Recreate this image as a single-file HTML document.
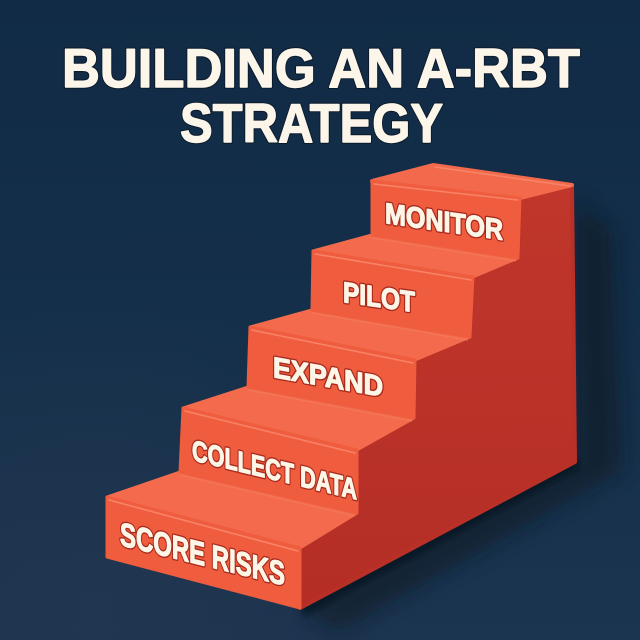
<!DOCTYPE html>
<html><head><meta charset="utf-8"><style>
html,body{margin:0;padding:0;background:#15304a;}
svg{display:block;}
</style></head><body>
<svg width="640" height="640" viewBox="0 0 640 640" xmlns="http://www.w3.org/2000/svg">
<defs>
<linearGradient id="bg" x1="0" y1="0" x2="0" y2="1">
<stop offset="0" stop-color="#112b46"/>
<stop offset="0.6" stop-color="#15304b"/>
<stop offset="1" stop-color="#1b3450"/>
</linearGradient>
<radialGradient id="glow" cx="0.15" cy="0.95" r="0.5">
<stop offset="0" stop-color="#243750" stop-opacity="0.7"/>
<stop offset="1" stop-color="#243750" stop-opacity="0"/>
</radialGradient>
<linearGradient id="side" x1="0" y1="0" x2="0" y2="1">
<stop offset="0" stop-color="#c0362b"/>
<stop offset="1" stop-color="#b42e26"/>
</linearGradient>
<filter id="blur" x="-30%" y="-30%" width="160%" height="160%"><feGaussianBlur stdDeviation="10"/></filter>
<filter id="blur2" x="-30%" y="-30%" width="160%" height="160%"><feGaussianBlur stdDeviation="3"/></filter>
</defs>
<rect width="640" height="640" fill="url(#bg)"/>
<rect width="640" height="640" fill="url(#glow)"/>

<!-- shadow -->
<polygon points="575,200 612,230 622,470 340,630 300,612 575,462" fill="#07141f" opacity="0.55" filter="url(#blur)"/>
<polygon points="300,606 575,460 580,468 305,616" fill="#050d16" opacity="0.6" filter="url(#blur2)"/>

<g stroke-linejoin="round">
<polygon points="520,198 572,185 575,462 300,608 300,548 357,513 357,450 414,418 415,360 470,337 473,277 518,258" fill="url(#side)" stroke="#b93027" stroke-width="4"/>
<polygon points="372,181 433,165 572,185 520,198" fill="#f26a4b" stroke="#f26a4b" stroke-width="4"/>
<polygon points="313,251 372,235 518,258 473,277" fill="#f36b4c" stroke="#f36b4c" stroke-width="3"/>
<polygon points="250,327 312,310 470,337 415,360" fill="#f36b4c" stroke="#f36b4c" stroke-width="3"/>
<polygon points="183,408 248,387 414,418 357,450" fill="#f36b4c" stroke="#f36b4c" stroke-width="3"/>
<polygon points="107,497 180,472 357,513 300,548" fill="#f36b4c" stroke="#f36b4c" stroke-width="3"/>
<polygon points="372,181 520,198 518,258 372,235" fill="#ef5d3e" stroke="#ef5d3e" stroke-width="3"/>
<polygon points="313,251 473,277 470,337 312,310" fill="#ef5d3e" stroke="#ef5d3e" stroke-width="3"/>
<polygon points="250,327 415,360 414,418 248,387" fill="#ef5d3e" stroke="#ef5d3e" stroke-width="3"/>
<polygon points="183,408 357,450 357,513 180,472" fill="#ef5d3e" stroke="#ef5d3e" stroke-width="3"/>
<polygon points="107,497 300,548 300,608 107,557" fill="#ef5d3e" stroke="#ef5d3e" stroke-width="3"/>
</g>

<g stroke="#f8876b" stroke-width="1.6" fill="none" stroke-linecap="round" opacity="0.9">
<line x1="374" y1="184" x2="518" y2="200"/>
<line x1="315" y1="254" x2="471" y2="280"/>
<line x1="252" y1="330" x2="413" y2="363"/>
<line x1="185" y1="411" x2="355" y2="453"/>
<line x1="109" y1="500" x2="298" y2="551"/>
<line x1="435" y1="167" x2="570" y2="186"/>
</g>
<g stroke="#f47b5e" stroke-width="1.2" fill="none" opacity="0.7">
<line x1="372" y1="238" x2="516" y2="261"/>
<line x1="312" y1="313" x2="468" y2="340"/>
<line x1="248" y1="390" x2="412" y2="421"/>
<line x1="180" y1="475" x2="355" y2="516"/>
</g>

<!-- title -->
<g font-family="'Liberation Sans', sans-serif" font-weight="bold" font-size="55">
<g fill="none" stroke="#0b1a2a" stroke-width="3.5" stroke-linejoin="round">
<text x="62" y="87" textLength="518" lengthAdjust="spacingAndGlyphs">BUILDING AN A-RBT</text>
<text x="180" y="142" textLength="263" lengthAdjust="spacingAndGlyphs">STRATEGY</text>
</g>
<g fill="#fbf5ea" stroke="#fbf5ea" stroke-width="1.4" stroke-linejoin="round">
<text x="62" y="87" textLength="518" lengthAdjust="spacingAndGlyphs">BUILDING AN A-RBT</text>
<text x="180" y="142" textLength="263" lengthAdjust="spacingAndGlyphs">STRATEGY</text>
</g>
</g>

<!-- labels -->
<g font-family="'Liberation Sans', sans-serif" font-weight="bold" stroke-linejoin="round">
<g fill="none" stroke="#a8291d" stroke-width="4">
<g transform="translate(385,223) skewY(8.2)"><text x="0" y="0" font-size="29" textLength="118" lengthAdjust="spacingAndGlyphs">MONITOR</text></g>
<g transform="translate(343,302) skewY(8)"><text x="0" y="0" font-size="29" textLength="72" lengthAdjust="spacingAndGlyphs">PILOT</text></g>
<g transform="translate(273,377) skewY(10.2)"><text x="0" y="0" font-size="29" textLength="110" lengthAdjust="spacingAndGlyphs">EXPAND</text></g>
<g transform="translate(192,460) skewY(13.5)"><text x="0" y="0" font-size="29" textLength="165" lengthAdjust="spacingAndGlyphs">COLLECT DATA</text></g>
<g transform="translate(120,545) skewY(13.8)"><text x="0" y="0" font-size="33" textLength="165" lengthAdjust="spacingAndGlyphs">SCORE RISKS</text></g>
</g>
<g fill="#fdf5e6" stroke="#fdf5e6" stroke-width="1.3">
<g transform="translate(385,223) skewY(8.2)"><text x="0" y="0" font-size="29" textLength="118" lengthAdjust="spacingAndGlyphs">MONITOR</text></g>
<g transform="translate(343,302) skewY(8)"><text x="0" y="0" font-size="29" textLength="72" lengthAdjust="spacingAndGlyphs">PILOT</text></g>
<g transform="translate(273,377) skewY(10.2)"><text x="0" y="0" font-size="29" textLength="110" lengthAdjust="spacingAndGlyphs">EXPAND</text></g>
<g transform="translate(192,460) skewY(13.5)"><text x="0" y="0" font-size="29" textLength="165" lengthAdjust="spacingAndGlyphs">COLLECT DATA</text></g>
<g transform="translate(120,545) skewY(13.8)"><text x="0" y="0" font-size="33" textLength="165" lengthAdjust="spacingAndGlyphs">SCORE RISKS</text></g>
</g>
</g>
</svg>
</body></html>
